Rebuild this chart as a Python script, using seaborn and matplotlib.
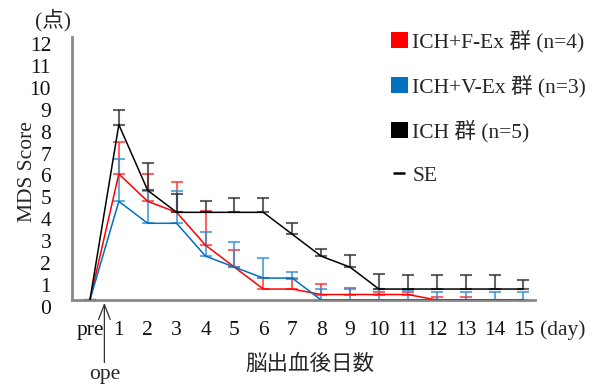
import numpy as np
import pandas as pd
import matplotlib
matplotlib.use("Agg")
import matplotlib.pyplot as plt
from matplotlib.patches import Patch
from matplotlib.lines import Line2D
import seaborn as sns

# ---- data ----
day_labels = ["pre"] + [str(i) for i in range(1, 16)]
groups = ["ICH+F-Ex 群 (n=4)", "ICH+V-Ex 群 (n=3)", "ICH 群 (n=5)"]
f_ex_mean = [0, 5.75, 4.5, 4.0, 2.5, 1.5, 0.5, 0.5, 0.25, 0.25, 0.25, 0.25, 0, 0, 0, 0]
f_ex_se = [0, 1.48, 1.25, 1.37, 1.56, 0.77, 0.5, 0.45, 0.47, 0.31, 0.13, 0.13, 0.12, 0.12, 0, 0]
v_ex_mean = [0, 4.5, 3.5, 3.5, 2.0, 1.5, 1.0, 1.0, 0, 0, 0, 0, 0, 0, 0, 0]
v_ex_se = [0, 1.94, 1.48, 1.48, 1.09, 1.16, 0.9, 0.3, 0.5, 0.5, 0.49, 0.46, 0.35, 0.35, 0.35, 0.35]
ich_mean = [0, 8, 5, 4, 4, 4, 4, 3, 2, 1.5, 0.5, 0.5, 0.5, 0.5, 0.5, 0.5]
ich_se = [0, 0.68, 1.27, 0.85, 0.52, 0.66, 0.66, 0.5, 0.34, 0.54, 0.7, 0.63, 0.66, 0.66, 0.66, 0.41]

means = [f_ex_mean, v_ex_mean, ich_mean]
ses = [f_ex_se, v_ex_se, ich_se]
colors = ["#FF0000", "#0070C0", "#000000"]
err_colors = ["#FF3030", "#3A8FD0", "#303030"]

rows = []
for g, m, s in zip(groups, means, ses):
    for i, (mv, sv) in enumerate(zip(m, s)):
        rows.append({"group": g, "pos": i, "score": mv, "se": sv})
df = pd.DataFrame(rows)

# ---- style ----
sns.set_theme(style="white")
plt.rcParams["font.family"] = ["Liberation Serif", "Noto Sans CJK JP"]
plt.rcParams["axes.unicode_minus"] = False

W, H = 595, 385
fig = plt.figure(figsize=(W / 100, H / 100), dpi=100)
ax = fig.add_axes([72 / W, 1 - 300 / H, (535 - 72) / W, (300 - 37) / H])

# error bars (upper only)
for g, ec in zip(groups, err_colors):
    d = df[df["group"] == g]
    ax.errorbar(d["pos"], d["score"], yerr=[np.zeros(len(d)), d["se"]],
                fmt="none", ecolor=ec, elinewidth=1.5, capsize=4.5, capthick=1.5,
                alpha=0.75, zorder=2)

sns.lineplot(data=df, x="pos", y="score", hue="group", hue_order=groups,
             palette=colors, linewidth=1.1, estimator=None, sort=False,
             legend=False, ax=ax, zorder=3)

ax.set_xlim(-0.62, 15.4)
ax.set_ylim(0, 12)
ax.set_yticks(range(0, 13))
ax.set_yticklabels([str(i) for i in range(13)], fontsize=15.5, va="top")
ax.set_xticks(range(16))
ax.set_xticklabels(day_labels, fontsize=15.5)
ax.set_xticks(np.arange(-0.5, 15.5, 1), minor=True)
ax.tick_params(axis="x", which="major", length=0, pad=15)
ax.tick_params(axis="x", which="minor", length=6, width=1.5, color="#888888", direction="out")
ax.tick_params(axis="y", which="major", length=6, width=1.5, color="#888888", direction="out", pad=9)
ax.tick_params(axis="both", labelcolor="#111111", which="major")
for side in ["top", "right"]:
    ax.spines[side].set_visible(False)
for side in ["left", "bottom"]:
    ax.spines[side].set_color("#888888")
    ax.spines[side].set_linewidth(2)
ax.set_xlabel("")
ax.set_ylabel("")

# texts
fig.text(28 / W, 1 - 172 / H, "MDS Score", rotation=90, ha="center", va="center", fontsize=15.5)
fig.text(53 / W, 1 - 20 / H, "(点)", ha="center", va="center", fontsize=15.5)
fig.text(563 / W, 1 - 330 / H, "(day)", ha="center", va="center", fontsize=15.5)
fig.text(310 / W, 1 - 365 / H, "脳出血後日数", ha="center", va="center", fontsize=15.5)

# ope arrow
ax.annotate("", xy=(0.5, 0), xycoords="data", xytext=(0, -45), textcoords="offset points",
            arrowprops=dict(arrowstyle="->,head_length=0.9,head_width=0.35", color="#333333",
                            lw=0.9, shrinkA=0, shrinkB=2),
            annotation_clip=False)
ax.annotate("ope", xy=(0.5, 0), xycoords="data", xytext=(0, -54), textcoords="offset points",
            ha="center", va="center", fontsize=15.5, annotation_clip=False)

# legend
handles = [Patch(facecolor=c, edgecolor="none") for c in colors]
handles.append(Line2D([], [], color="black", marker="_", markersize=9,
                      markeredgewidth=1.8, linestyle="none"))
labels = groups + ["SE"]
fig.legend(handles, labels, loc="upper left", bbox_to_anchor=(382 / W, 1 - 21 / H),
           frameon=False, fontsize=15.5, handlelength=0.8, handleheight=0.75,
           handletextpad=0.2, labelspacing=1.05, borderaxespad=0)

fig.savefig("out.png", dpi=100)
